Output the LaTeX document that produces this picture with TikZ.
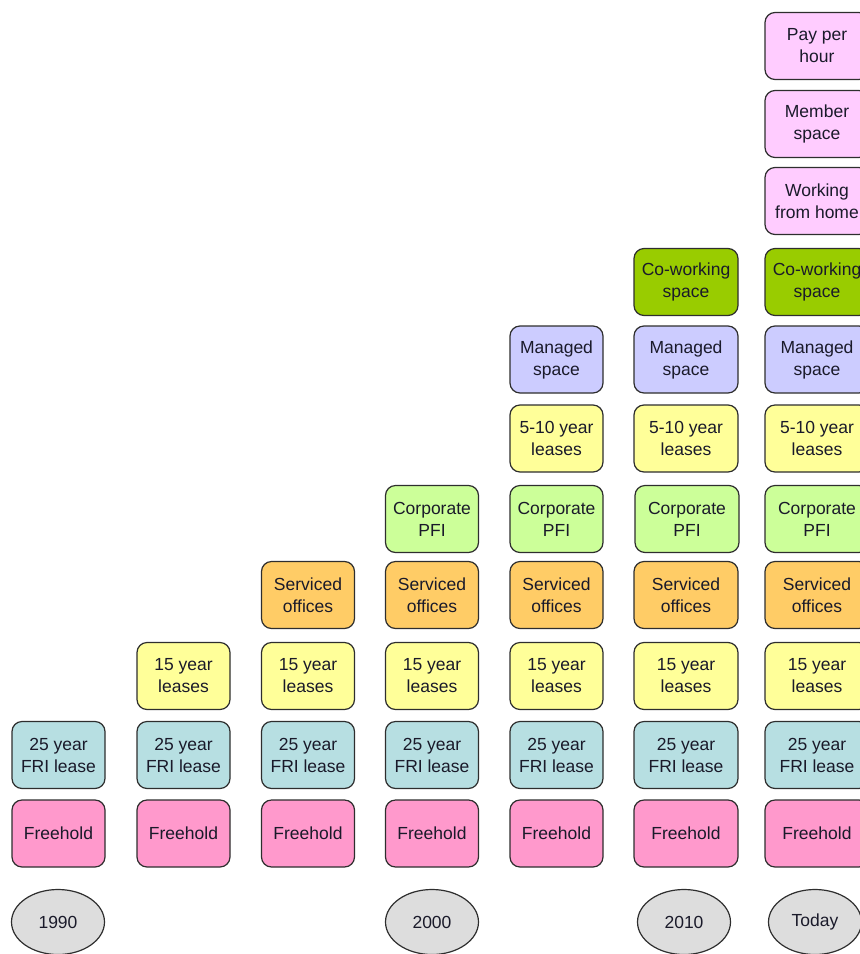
\documentclass[tikz,border=0pt]{standalone}
\usepackage{fontspec}
\setmainfont{Liberation Sans}
\usetikzlibrary{shapes.geometric}
\definecolor{cFree}{HTML}{FF99CC}
\definecolor{cFRI}{HTML}{B7DFE2}
\definecolor{cYel}{HTML}{FFFF99}
\definecolor{cServ}{HTML}{FFCC66}
\definecolor{cCorp}{HTML}{CCFF99}
\definecolor{cMan}{HTML}{CCCCFF}
\definecolor{cCow}{HTML}{99CC00}
\definecolor{cPink}{HTML}{FFCCFF}
\definecolor{cYear}{HTML}{DDDDDD}
\definecolor{cLine}{HTML}{2E2E2E}
\definecolor{cText}{HTML}{1A1A2A}
\tikzset{
  box/.style={draw=cLine, line width=1.2pt, rounded corners=10pt, minimum height=67pt,
    minimum width=93pt, align=center, inner sep=0pt, text=cText,
    font=\fontsize{17.5}{22}\selectfont},
  wide/.style={minimum width=104pt},
  yearnode/.style={draw=cLine, line width=1.2pt, ellipse, fill=cYear, minimum height=65pt,
    minimum width=93pt, inner sep=0pt, text=cText, font=\fontsize{17.5}{22}\selectfont}
}
\begin{document}
\begin{tikzpicture}[x=1pt,y=-1pt]
\useasboundingbox (0,0) rectangle (860,954);
% rows: y centres
\def\yFree{833.5}\def\yFRI{755}\def\yFif{676}\def\ySer{595}\def\yCor{519}
\def\yFiv{438.5}\def\yMan{359.5}\def\yCow{282}\def\yWfh{201}\def\yMem{124}\def\yPay{46}
% column 1 (1990)
\node[box, fill=cFree] (f1) at (58.5,\yFree) {Freehold};
\node[box, fill=cFRI] (r1) at (58.5,\yFRI) {25 year\\FRI lease};
% column 2
\node[box, fill=cFree] (f2) at (183.5,\yFree) {Freehold};
\node[box, fill=cFRI] (r2) at (183.5,\yFRI) {25 year\\FRI lease};
\node[box, fill=cYel] (l2) at (183.5,\yFif) {15 year\\leases};
% column 3
\node[box, fill=cFree] (f3) at (308,\yFree) {Freehold};
\node[box, fill=cFRI] (r3) at (308,\yFRI) {25 year\\FRI lease};
\node[box, fill=cYel] (l3) at (308,\yFif) {15 year\\leases};
\node[box, fill=cServ] (s3) at (308,\ySer) {Serviced\\offices};
% column 4 (2000)
\node[box, fill=cFree] (f4) at (432,\yFree) {Freehold};
\node[box, fill=cFRI] (r4) at (432,\yFRI) {25 year\\FRI lease};
\node[box, fill=cYel] (l4) at (432,\yFif) {15 year\\leases};
\node[box, fill=cServ] (s4) at (432,\ySer) {Serviced\\offices};
\node[box, fill=cCorp] (c4) at (432,\yCor) {Corporate\\PFI};
% column 5
\node[box, fill=cFree] (f5) at (556.5,\yFree) {Freehold};
\node[box, fill=cFRI] (r5) at (556.5,\yFRI) {25 year\\FRI lease};
\node[box, fill=cYel] (l5) at (556.5,\yFif) {15 year\\leases};
\node[box, fill=cServ] (s5) at (556.5,\ySer) {Serviced\\offices};
\node[box, fill=cCorp] (c5) at (556.5,\yCor) {Corporate\\PFI};
\node[box, fill=cYel] (v5) at (556.5,\yFiv) {5-10 year\\leases};
\node[box, fill=cMan] (m5) at (556.5,\yMan) {Managed\\space};
% column 6 (2010)
\node[box, wide, fill=cFree] (f6) at (686,\yFree) {Freehold};
\node[box, wide, fill=cFRI] (r6) at (686,\yFRI) {25 year\\FRI lease};
\node[box, wide, fill=cYel] (l6) at (686,\yFif) {15 year\\leases};
\node[box, wide, fill=cServ] (s6) at (686,\ySer) {Serviced\\offices};
\node[box, wide, fill=cCorp] (c6) at (687,\yCor) {Corporate\\PFI};
\node[box, wide, fill=cYel] (v6) at (686,\yFiv) {5-10 year\\leases};
\node[box, wide, fill=cMan] (m6) at (686,\yMan) {Managed\\space};
\node[box, wide, fill=cCow] (w6) at (686,\yCow) {Co-working\\space};
% column 7 (Today)
\node[box, wide, fill=cFree] (f7) at (817,\yFree) {Freehold};
\node[box, wide, fill=cFRI] (r7) at (817,\yFRI) {25 year\\FRI lease};
\node[box, wide, fill=cYel] (l7) at (817,\yFif) {15 year\\leases};
\node[box, wide, fill=cServ] (s7) at (817,\ySer) {Serviced\\offices};
\node[box, wide, fill=cCorp] (c7) at (817,\yCor) {Corporate\\PFI};
\node[box, wide, fill=cYel] (v7) at (817,\yFiv) {5-10 year\\leases};
\node[box, wide, fill=cMan] (m7) at (817,\yMan) {Managed\\space};
\node[box, wide, fill=cCow] (w7) at (817,\yCow) {Co-working\\space};
\node[box, wide, fill=cPink] (h7) at (817,\yWfh) {Working\\from home};
\node[box, wide, fill=cPink] (b7) at (817,\yMem) {Member\\space};
\node[box, wide, fill=cPink] (p7) at (817,\yPay) {Pay per\\hour};
% years
\node[yearnode] (y1) at (58,922) {1990};
\node[yearnode] (y2) at (432,922) {2000};
\node[yearnode] (y3) at (684,922) {2010};
\node[yearnode] (y4) at (815,922) {Today};
\end{tikzpicture}
\end{document}
